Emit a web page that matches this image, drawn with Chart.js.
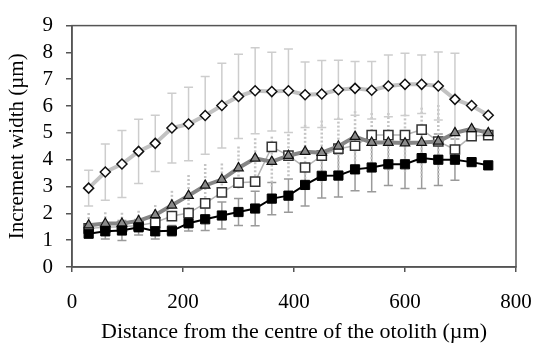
<!DOCTYPE html>
<html>
<head>
<meta charset="utf-8">
<script src="https://cdn.jsdelivr.net/npm/chart.js@4/dist/chart.umd.min.js"></script>
<style>
  html, body { margin: 0; padding: 0; background: #fff; }
  #wrap { width: 534px; height: 345px; }
</style>
</head>
<body>
<div id="wrap"><canvas id="chart"></canvas></div>
<script>
// distance from the centre of the otolith (µm)
const distance = [30, 60, 90, 120, 150, 180, 210, 240, 270, 300, 330, 360, 390,
                  420, 450, 480, 510, 540, 570, 600, 630, 660, 690, 720, 750];

// increment width (µm) for each group
const diamondWidth = [2.94, 3.54, 3.84, 4.31, 4.61, 5.18, 5.33, 5.65, 6.02, 6.36, 6.57, 6.54, 6.57,
                      6.42, 6.45, 6.61, 6.66, 6.59, 6.75, 6.81, 6.81, 6.75, 6.25, 6.02, 5.66];
const triangleWidth = [1.56, 1.62, 1.62, 1.72, 1.94, 2.30, 2.66, 3.04, 3.26, 3.69, 4.05, 3.93, 4.15,
                       4.30, 4.26, 4.50, 4.86, 4.64, 4.64, 4.62, 4.64, 4.68, 5.00, 5.15, 5.00];
const openSquareWidth = [1.44, 1.48, 1.50, 1.55, 1.66, 1.90, 2.01, 2.37, 2.78, 3.14, 3.18, 4.48, 4.15,
                         3.71, 4.15, 4.41, 4.52, 4.92, 4.92, 4.92, 5.12, 4.68, 4.38, 4.88, 4.92];
const filledSquareWidth = [1.24, 1.33, 1.36, 1.48, 1.33, 1.35, 1.63, 1.78, 1.92, 2.05, 2.18, 2.55, 2.66,
                           3.06, 3.40, 3.41, 3.64, 3.71, 3.83, 3.83, 4.06, 4.00, 4.00, 3.91, 3.79];

// standard deviations (null = no bar drawn)
const diamondSD = [0.67, 1.05, 1.25, 1.20, 1.05, 1.30, 1.37, 1.45, 1.58, 1.57, 1.60, 1.47, 1.56,
                   1.22, 1.25, 1.10, 1.00, 1.07, 1.15, 1.16, 1.09, 1.27, 1.72, null, null];
const triangleSD = [0.45, 0.42, 0.40, 0.38, 0.37, 0.54, 0.77, 0.80, 0.60, 0.80, 0.75, 0.93, 0.80,
                    1.00, 1.20, 1.07, 0.95, 1.10, 1.10, 1.07, 1.30, 1.36, null, null, null];
const filledSquareSD = [0.12, 0.29, 0.37, 0.29, 0.29, 0.20, 0.29, 0.42, 0.50, 0.50, 0.64, 0.60, 0.62,
                        0.79, 0.83, 0.80, 0.80, 0.90, 0.79, 0.90, 1.13, 0.96, 0.77, null, null];

const xTicks = [0, 200, 400, 600, 800];
const yTicks = [0, 1, 2, 3, 4, 5, 6, 7, 8, 9];

function pts(ys) {
    return distance.map((d, i) => ({ x: d, y: ys[i] }));
}

const serif = "'Liberation Serif', 'Times New Roman', serif";

// error bars drawn behind the series
const errorBars = {
    id: 'errorBars',
    beforeDatasetsDraw(chart) {
        const ctx = chart.ctx;
        const xs = chart.scales.x;
        const ys = chart.scales.y;
        chart.data.datasets.forEach(ds => {
            if (!ds.sd) return;
            ctx.save();
            ctx.strokeStyle = ds.barColor;
            ctx.lineWidth = ds.barWidth;
            ctx.setLineDash(ds.barDash || []);
            ds.data.forEach((p, i) => {
                const s = ds.sd[i];
                if (s == null) return;
                const px = xs.getPixelForValue(p.x);
                const top = ys.getPixelForValue(p.y + s);
                const bot = ys.getPixelForValue(p.y - s);
                ctx.beginPath();
                ctx.moveTo(px, top);
                ctx.lineTo(px, bot);
                if (ds.capSize) {
                    ctx.moveTo(px - ds.capSize, top);
                    ctx.lineTo(px + ds.capSize, top);
                    ctx.moveTo(px - ds.capSize, bot);
                    ctx.lineTo(px + ds.capSize, bot);
                }
                ctx.stroke();
            });
            ctx.restore();
        });
    }
};

// frame around the plot area
const frame = {
    id: 'frame',
    afterDraw(chart) {
        const a = chart.chartArea;
        const ctx = chart.ctx;
        ctx.save();
        ctx.strokeStyle = '#555';
        ctx.lineWidth = 1.5;
        ctx.strokeRect(a.left, a.top, a.right - a.left, a.bottom - a.top);
        ctx.restore();
    }
};

const config = {
    type: 'line',
    data: {
        datasets: [
            {
                label: 'filled squares',
                data: pts(filledSquareWidth),
                sd: filledSquareSD,
                barColor: '#9a9a9a',
                barWidth: 1.5,
                capSize: 4.5,
                borderColor: '#000',
                borderWidth: 2,
                pointStyle: 'rect',
                pointRadius: 6.5,
                pointBackgroundColor: '#000',
                pointBorderColor: '#000',
                pointBorderWidth: 1,
                order: 1
            },
            {
                label: 'open squares',
                data: pts(openSquareWidth),
                borderColor: '#b4b4b4',
                borderWidth: 1.5,
                pointStyle: 'rect',
                pointRadius: 6.5,
                pointBackgroundColor: '#fff',
                pointBorderColor: '#333',
                pointBorderWidth: 1.5,
                order: 3
            },
            {
                label: 'triangles',
                data: pts(triangleWidth),
                sd: triangleSD,
                barColor: '#c4c4c4',
                barWidth: 2.5,
                barDash: [2, 2],
                capSize: 0,
                borderColor: '#858585',
                borderWidth: 4,
                pointStyle: 'triangle',
                pointRadius: 5.5,
                pointBackgroundColor: '#8a8a8a',
                pointBorderColor: '#111',
                pointBorderWidth: 1.2,
                order: 2
            },
            {
                label: 'diamonds',
                data: pts(diamondWidth),
                sd: diamondSD,
                barColor: '#cdcdcd',
                barWidth: 1.5,
                capSize: 4.5,
                borderColor: '#c2c2c2',
                borderWidth: 4,
                pointStyle: 'rectRot',
                pointRadius: 5,
                pointBackgroundColor: '#fff',
                pointBorderColor: '#111',
                pointBorderWidth: 1.5,
                order: 4
            }
        ]
    },
    options: {
        responsive: true,
        maintainAspectRatio: false,
        animation: false,
        layout: { padding: { top: 13, right: 18, left: 0, bottom: 0 } },
        plugins: {
            legend: { display: false },
            tooltip: { enabled: false }
        },
        elements: { line: { tension: 0 } },
        scales: {
            x: {
                type: 'linear',
                min: 0,
                max: 800,
                afterBuildTicks: s => { s.ticks = xTicks.map(v => ({ value: v })); },
                afterFit: s => { s.height = 78; s.paddingRight = 0; s.paddingLeft = 0; },
                grid: { drawOnChartArea: false, drawTicks: true, tickLength: 5, color: '#555', lineWidth: 1.5 },
                border: { color: '#555', width: 1.5 },
                ticks: { color: '#000', font: { family: serif, size: 21 }, padding: 18, maxRotation: 0, autoSkip: false },
                title: {
                    display: true,
                    text: 'Distance from the centre of the otolith (µm)',
                    color: '#000',
                    font: { family: serif, size: 22 },
                    padding: { top: 0, bottom: 0 }
                }
            },
            y: {
                min: 0,
                max: 9,
                afterBuildTicks: s => { s.ticks = yTicks.map(v => ({ value: v })); },
                afterFit: s => { s.width = 72; },
                grid: { drawOnChartArea: false, drawTicks: true, tickLength: 6, color: '#555', lineWidth: 1.5 },
                border: { color: '#555', width: 1.5 },
                ticks: { color: '#000', font: { family: serif, size: 21 }, padding: 13, autoSkip: false },
                title: {
                    display: true,
                    text: 'Increment width (µm)',
                    color: '#000',
                    font: { family: serif, size: 21 },
                    padding: { top: 5, bottom: 0 }
                }
            }
        }
    },
    plugins: [errorBars, frame]
};

new Chart(document.getElementById('chart'), config);
</script>
</body>
</html>
